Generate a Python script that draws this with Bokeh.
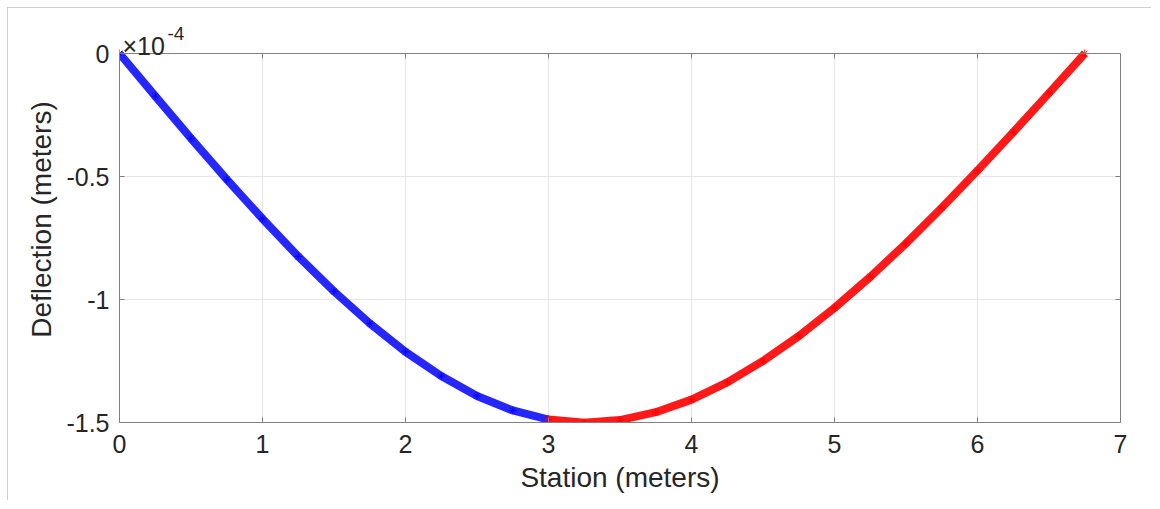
from bokeh.plotting import figure
from bokeh.models import (Range1d, FixedTicker, Label, Span, LinearAxis,
                          CustomJSTickFormatter)
from bokeh.embed import file_html
from bokeh.resources import INLINE
import math

# ---- data (deflection in units of 1e-4 m) ----
station_left = [0.0, 0.25, 0.5, 0.75, 1.0, 1.25, 1.5, 1.75, 2.0, 2.25, 2.5, 2.75, 3.0]
deflection_left = [0.0, -0.173, -0.345, -0.512, -0.672, -0.825, -0.967, -1.097,
                   -1.213, -1.311, -1.392, -1.451, -1.488]
station_right = [3.0, 3.25, 3.5, 3.75, 4.0, 4.25, 4.5, 4.75, 5.0, 5.25, 5.5,
                 5.75, 6.0, 6.25, 6.5, 6.75]
deflection_right = [-1.488, -1.501, -1.490, -1.458, -1.407, -1.337, -1.250, -1.149,
                    -1.034, -0.908, -0.772, -0.627, -0.476, -0.320, -0.161, 0.0]
x_ticks = [0, 1, 2, 3, 4, 5, 6, 7]
y_ticks = [-1.5, -1.0, -0.5, 0.0]
x_min, x_max = 0, 7
y_min, y_max = -1.5, 0

FONT = "Liberation Sans"
TXT = "#262626"
AX = "#808080"
GRID = "#e6e6e6"

# axes box is 369 px tall; the frame reaches 37 px higher to hold the exponent text
BOX_H, HEAD = 369, 37
PX = (y_max - y_min) / BOX_H          # data units per screen pixel (vertical)
y_top = y_max + HEAD * PX

p = figure(width=1144, height=493, output_backend="svg", toolbar_location=None,
           x_range=Range1d(x_min, x_max), y_range=Range1d(y_min, y_top),
           min_border_left=111, min_border_right=32, min_border_top=8,
           min_border_bottom=79)
p.background_fill_color = "white"
p.border_fill_color = "white"
p.outline_line_color = None
p.styles = {"margin-left": "7px", "margin-top": "7px",
            "border-left": "1px solid #d0d0d0", "border-top": "1px solid #d0d0d0"}

p.xgrid.visible = False
p.ygrid.grid_line_color = GRID
p.xaxis.ticker = FixedTicker(ticks=x_ticks)
p.yaxis.ticker = FixedTicker(ticks=y_ticks)
p.yaxis.bounds = (y_min, y_max)
p.yaxis.formatter = CustomJSTickFormatter(code="return String(tick);")

for ax in (p.xaxis[0], p.yaxis[0]):
    ax.axis_line_color = AX
    ax.major_tick_line_color = AX
    ax.major_tick_in = 5
    ax.major_tick_out = 0
    ax.minor_tick_line_color = None
    ax.major_label_text_font = FONT
    ax.major_label_text_font_size = "25px"
    ax.major_label_text_color = TXT
    ax.axis_label_text_font = FONT
    ax.axis_label_text_font_size = "28px"
    ax.axis_label_text_font_style = "normal"
    ax.axis_label_text_color = TXT

p.xaxis.axis_label = "Station (meters)"
p.yaxis.axis_label = "Deflection (meters)"
p.xaxis.major_label_standoff = 12
p.yaxis.major_label_standoff = 10
p.xaxis.axis_label_standoff = 6
p.yaxis.axis_label_standoff = 6

# vertical grid lines limited to the axes box
p.segment(x0=x_ticks, y0=[y_min] * len(x_ticks), x1=x_ticks, y1=[y_max] * len(x_ticks),
          line_color=GRID, line_width=1)

# box: top edge and right edge, with inward ticks
p.add_layout(Span(location=y_max, dimension="width", line_color=AX, line_width=1))
p.add_layout(LinearAxis(ticker=FixedTicker(ticks=[]), bounds=(y_min, y_max),
                        axis_line_color=AX, major_tick_line_color=None,
                        minor_tick_line_color=None), "right")
p.ray(x=x_ticks, y=[y_max] * len(x_ticks), length=5, length_units="screen",
      angle=-math.pi / 2, line_color=AX, line_width=1)
p.ray(x=[x_max] * len(y_ticks), y=y_ticks, length=5, length_units="screen",
      angle=math.pi, line_color=AX, line_width=1)

# curves
p.line(station_left, deflection_left, line_color="#0000ff", line_width=8,
       line_alpha=0.85, line_join="round")
p.scatter(station_left, deflection_left, marker="asterisk", size=8,
          line_color="#0000ff", line_alpha=0.85, line_width=1)
p.line(station_right, deflection_right, line_color="#ff0000", line_width=8,
       line_alpha=0.9, line_join="round")
p.scatter(station_right, deflection_right, marker="asterisk", size=8,
          line_color="#ff0000", line_alpha=0.9, line_width=1)

# exponent "×10^-4" above the top-left corner of the axes box
p.add_layout(Label(x=x_min, y=y_max + 8 * PX, x_offset=3, y_offset=0, text="×10",
                   text_font=FONT, text_font_size="25px", text_color=TXT,
                   text_baseline="alphabetic"))
p.add_layout(Label(x=x_min, y=y_max + 20 * PX, x_offset=48, y_offset=0, text="-4",
                   text_font=FONT, text_font_size="19px", text_color=TXT,
                   text_baseline="alphabetic"))

open("out.html", "w").write(file_html(p, INLINE))
